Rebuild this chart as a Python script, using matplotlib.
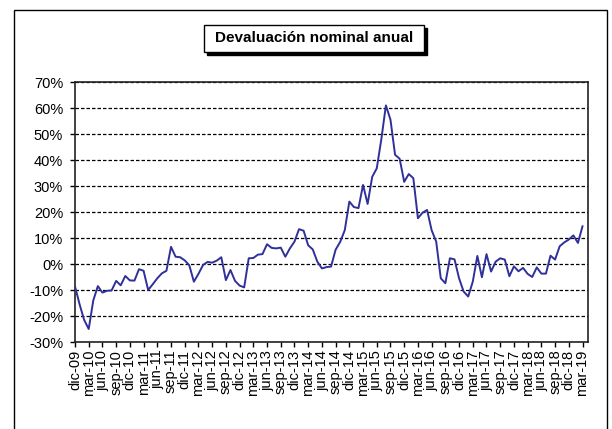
import numpy as np
import matplotlib.pyplot as plt
from matplotlib.patches import Rectangle

# --- Datos: devaluación nominal anual (%), mensual dic-09 ... mar-19 ---
devaluacion = [
    -8.6, -15.5, -21.5, -25.0, -14.0, -8.5, -11.0, -10.3, -10.2, -6.5,
    -8.2, -4.6, -6.3, -6.4, -2.0, -2.6, -10.0, -7.8, -5.5, -3.6,
    -2.6, 6.6, 2.8, 2.6, 1.4, -0.5, -6.8, -3.8, -0.4, 0.8,
    0.5, 1.3, 2.6, -6.2, -2.3, -6.5, -8.3, -9.0, 2.2, 2.3,
    3.6, 3.8, 7.6, 6.2, 6.0, 6.3, 2.8, 6.0, 8.6, 13.4,
    12.8, 7.2, 5.6, 0.9, -1.7, -1.2, -1.0, 5.5, 8.5, 13.0,
    24.0, 21.9, 21.5, 30.4, 23.1, 33.5, 36.8, 48.0, 61.0, 55.5,
    42.0, 40.5, 31.6, 34.6, 33.0, 17.6, 19.7, 20.8, 13.0, 8.6,
    -5.5, -7.4, 2.2, 1.8, -5.5, -10.6, -12.5, -6.8, 3.1, -5.1,
    3.8, -2.9, 0.9, 2.2, 1.7, -4.7, -0.9, -2.8, -1.5, -3.8,
    -5.0, -1.3, -3.7, -3.7, 3.2, 1.7, 6.8, 8.3, 9.4, 11.0,
    8.1, 14.5,
]

# Etiquetas del eje x (una cada tres meses)
etiquetas = [
    "dic-09", "mar-10", "jun-10", "sep-10", "dic-10", "mar-11", "jun-11",
    "sep-11", "dic-11", "mar-12", "jun-12", "sep-12", "dic-12", "mar-13",
    "jun-13", "sep-13", "dic-13", "mar-14", "jun-14", "sep-14", "dic-14",
    "mar-15", "jun-15", "sep-15", "dic-15", "mar-16", "jun-16", "sep-16",
    "dic-16", "mar-17", "jun-17", "sep-17", "dic-17", "mar-18", "jun-18",
    "sep-18", "dic-18", "mar-19",
]

niveles = [-30, -20, -10, 0, 10, 20, 30, 40, 50, 60, 70]
niveles_txt = ["-30%", "-20%", "-10%", "0%", "10%", "20%", "30%",
               "40%", "50%", "60%", "70%"]

plt.rcParams['font.family'] = ['Liberation Sans', 'DejaVu Sans']

W, H = 612, 429
fig = plt.figure(figsize=(W / 100, H / 100), dpi=100)

# Marco exterior del gráfico
fig.add_artist(Rectangle((14 / W, -0.1), (607 - 14) / W, 1 - 10 / H + 0.1,
                         transform=fig.transFigure, fill=False,
                         lw=1.0, ec='black'))

# Caja del título con sombra
fig.add_artist(Rectangle((207 / W, 1 - 55 / H), 220 / W, 27 / H,
                         transform=fig.transFigure, fc='black', ec='black'))
fig.add_artist(Rectangle((204 / W, 1 - 52 / H), 220 / W, 27 / H,
                         transform=fig.transFigure, fc='white', ec='black',
                         lw=1.0))
fig.text(314 / W, 1 - 38.5 / H, "Devaluación nominal anual",
         ha='center', va='center', fontsize=11, fontweight='bold')

ax = fig.add_axes([75 / W, 1 - 342 / H, (588 - 75) / W, (342 - 82) / H])

meses = np.arange(len(devaluacion))
ax.plot(meses, devaluacion, color='#30309A', lw=1.4, zorder=3)

ax.set_xlim(0, 112.2)
ax.set_ylim(-30, 70)

ax.set_xticks(meses[::3])
ax.set_xticklabels(etiquetas, rotation=90, fontsize=10.5)
ax.set_yticks(niveles)
ax.set_yticklabels(niveles_txt, fontsize=10.5)

ax.tick_params(axis='both', direction='out', length=3.5, width=1.0,
               color='black')
ax.tick_params(axis='y', pad=5)
ax.tick_params(axis='x', pad=2)

# Líneas de referencia punteadas
ax.yaxis.grid(True, color='black', linestyle=(0, (2.8, 1.6)), lw=0.9)
ax.set_axisbelow(True)

for s in ax.spines.values():
    s.set_linewidth(1.2)
    s.set_color('#222222')

fig.savefig('out.png', dpi=100)
